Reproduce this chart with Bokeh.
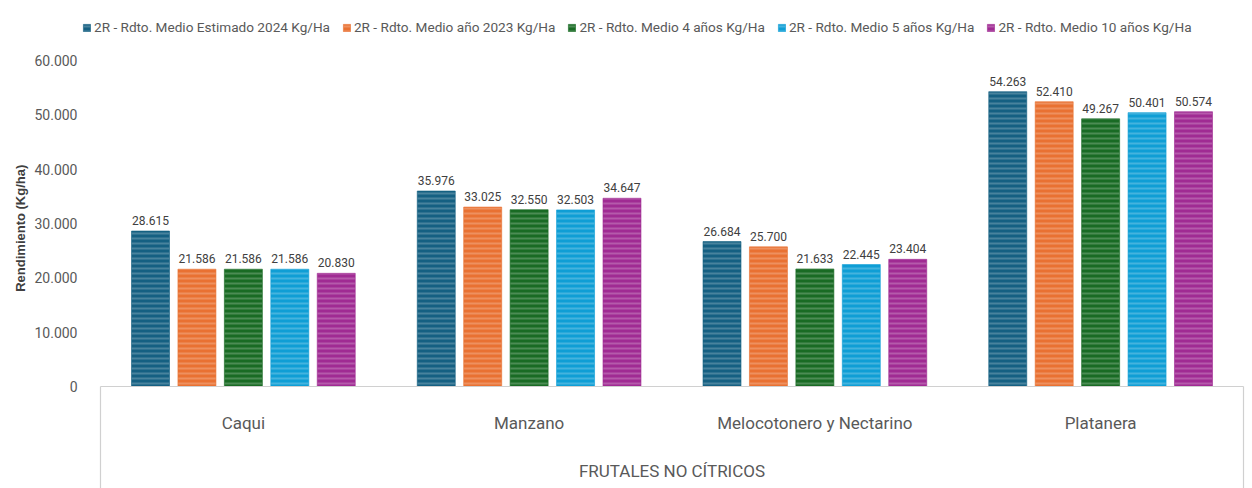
from bokeh.plotting import figure
from bokeh.models import (Range1d, ColumnDataSource, LabelSet, Legend, LegendItem,
                          FixedTicker, CustomJSTickFormatter)
from bokeh.transform import dodge
from bokeh.core.properties import value
from bokeh.embed import file_html
from bokeh.resources import INLINE

categories = ["Caqui", "Manzano", "Melocotonero y Nectarino", "Platanera"]
series_names = [
    "2R - Rdto. Medio Estimado 2024 Kg/Ha",
    "2R - Rdto. Medio año 2023 Kg/Ha",
    "2R - Rdto. Medio 4 años Kg/Ha",
    "2R - Rdto. Medio 5 años Kg/Ha",
    "2R - Rdto. Medio 10 años Kg/Ha",
]
estimado_2024 = [28615, 35976, 26684, 54263]
anio_2023 = [21586, 33025, 25700, 52410]
medio_4 = [21586, 32550, 21633, 49267]
medio_5 = [21586, 32503, 22445, 50401]
medio_10 = [20830, 34647, 23404, 50574]
y_ticks = [0, 10000, 20000, 30000, 40000, 50000, 60000]
axis_group = "FRUTALES NO CÍTRICOS"
y_title = "Rendimiento (Kg/ha)"

series_values = [estimado_2024, anio_2023, medio_4, medio_5, medio_10]
colors = ["#156082", "#E97132", "#196B24", "#0F9ED5", "#A02B93"]

FONT = "Roboto"
GRID = "#d0d0d0"

def fmt(v):
    return f"{v:,}".replace(",", ".")

n = len(categories)
centres = [i + 0.5 for i in range(n)]

# layout in pixels
W, H = 1252, 488
LEFT = 80                 # frame starts here; y-axis lives in the left border
GROUP_L, GROUP_R = 100, 1243
Y_TOP_PX, Y_ZERO_PX = 60, 386
px_per_unit = (GROUP_R - GROUP_L) / n
dpp = 60000 / (Y_ZERO_PX - Y_TOP_PX)
x0 = -(GROUP_L - LEFT) / px_per_unit
x1 = n + (W - GROUP_R) / px_per_unit
y_hi = 60000 + Y_TOP_PX * dpp
y_lo = -(H - Y_ZERO_PX) * dpp

p = figure(width=W, height=H, x_range=Range1d(x0, x1), y_range=Range1d(y_lo, y_hi),
           x_axis_location=None, output_backend="svg", toolbar_location=None,
           min_border_left=LEFT, min_border_right=0, min_border_top=0, min_border_bottom=0)
p.background_fill_color = None
p.border_fill_color = "white"
p.outline_line_color = None
p.xgrid.visible = False
p.ygrid.visible = False

ya = p.yaxis[0]
ya.ticker = FixedTicker(ticks=y_ticks)
ya.formatter = CustomJSTickFormatter(code="return tick.toFixed(0).replace(/\\B(?=(\\d{3})+(?!\\d))/g, '.');")
ya.axis_line_color = None
ya.major_tick_line_color = None
ya.minor_tick_line_color = None
ya.major_tick_in = 0
ya.major_tick_out = 0
ya.major_label_text_font = FONT
ya.major_label_text_font_size = "14px"
ya.major_label_text_color = "#595959"
ya.major_label_standoff = 3
# leading no-break spaces lift the title to the centre of the 0-60.000 span
ya.axis_label = "\u00a0" * 9 + y_title
ya.axis_label_text_font = "Liberation Sans"
ya.axis_label_text_font_style = "bold"
ya.axis_label_text_font_size = "13px"
ya.axis_label_text_color = "#404040"
ya.axis_label_standoff = 3

offsets = [-0.325, -0.1625, 0.0, 0.1625, 0.325]
bar_w = 0.133

items = []
for name, vals, col, off in zip(series_names, series_values, colors, offsets):
    src = ColumnDataSource(dict(x=centres, val=vals, lab=[fmt(v) for v in vals]))
    r = p.vbar(x=dodge("x", off), top="val", bottom=0, width=bar_w, source=src,
               fill_color=col, line_color=col, line_alpha=0.6, line_width=1,
               hatch_pattern="horizontal_line", hatch_color="white", hatch_alpha=0.22,
               hatch_scale=5, hatch_weight=2)
    items.append(LegendItem(label=name, renderers=[r]))
    ls = LabelSet(x=dodge("x", off), y="val", text="lab", source=src,
                  text_align="center", text_baseline="bottom", y_offset=6,
                  text_font=value(FONT), text_font_size="12px", text_color="#404040")
    p.add_layout(ls)

# category box below the bars
p.segment(x0=[0, 0, n], x1=[n, 0, n], y0=[0, 0, 0], y1=[0, y_lo, y_lo],
          line_color=GRID, line_width=1.2)
cat_src = ColumnDataSource(dict(x=centres, cat=categories))
p.text(x="x", y=-36 * dpp, text="cat", source=cat_src, text_align="center",
       text_baseline="middle", text_font=value(FONT), text_font_size="17px",
       text_color="#595959")
p.text(x=[n / 2], y=[-84 * dpp], text=[axis_group], text_align="center",
       text_baseline="middle", text_font=value(FONT), text_font_size="17px",
       text_color="#595959")

legend = Legend(items=items, orientation="horizontal", location=(2, H - 35),
                label_text_font=FONT, label_text_font_size="13.6px",
                label_text_color="#595959", glyph_width=9, glyph_height=9,
                label_standoff=3, spacing=12, padding=0, margin=0,
                border_line_color=None, background_fill_alpha=0)
p.add_layout(legend)

open("out.html", "w").write(file_html(p, INLINE))
